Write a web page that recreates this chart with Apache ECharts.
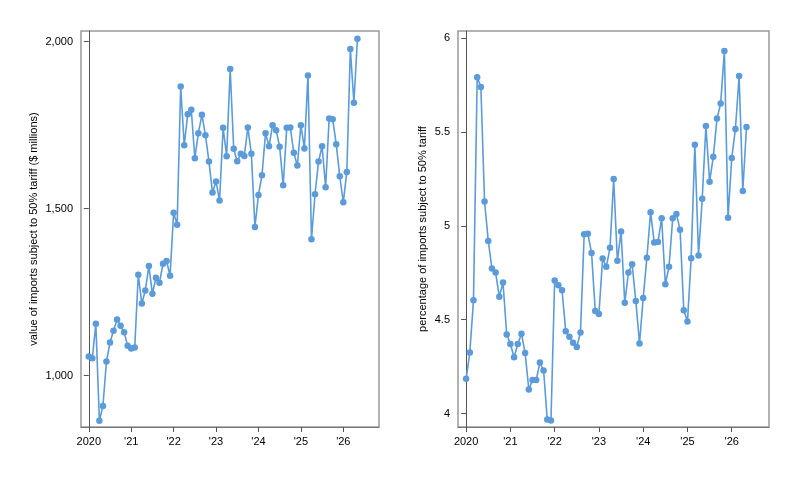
<!DOCTYPE html>
<html>
<head>
<meta charset="utf-8">
<script src="https://cdn.jsdelivr.net/npm/echarts@6/dist/echarts.min.js"></script>
<style>
  html, body { margin: 0; padding: 0; background: #fff; }
  #chart { width: 800px; height: 480px; }
</style>
</head>
<body>
<div id="chart"></div>
<script>
// monthly observations, Jan 2020 .. May 2026
const startYear = 2020;
const startMonth = 1;

// value of imports subject to 50% tariff ($ millions)
const importValue = [
  1057, 1052, 1155, 865, 909, 1042, 1099, 1134, 1168, 1149, 1130, 1089,
  1081, 1084, 1302, 1216, 1255, 1328, 1245, 1293, 1278, 1335, 1343, 1299,
  1488, 1452, 1866, 1690, 1783, 1796, 1651, 1726, 1781, 1720, 1641, 1548,
  1581, 1524, 1742, 1657, 1918, 1679, 1642, 1664, 1658, 1743, 1664, 1445,
  1541, 1600, 1726, 1687, 1750, 1735, 1685, 1570, 1742, 1743, 1667, 1629,
  1750, 1680, 1899, 1408, 1543, 1641, 1687, 1564, 1770, 1768, 1693, 1597,
  1519, 1610, 1978, 1817, 2009
];

// percentage of imports subject to 50% tariff
const importShare = [
  4.185, 4.325, 4.604, 5.792, 5.741, 5.13, 4.92, 4.773, 4.751, 4.622, 4.698, 4.421,
  4.37, 4.30, 4.37, 4.425, 4.322, 4.128, 4.178, 4.178, 4.272, 4.229, 3.968, 3.963,
  4.709, 4.684, 4.657, 4.439, 4.409, 4.377, 4.355, 4.432, 4.956, 4.958, 4.856, 4.547,
  4.531, 4.826, 4.782, 4.883, 5.25, 4.814, 4.97, 4.59, 4.751, 4.796, 4.60, 4.373,
  4.616, 4.83, 5.073, 4.911, 4.914, 5.041, 4.689, 4.782, 5.041, 5.064, 4.979, 4.551,
  4.49, 4.828, 5.432, 4.842, 5.145, 5.533, 5.236, 5.368, 5.572, 5.652, 5.932, 5.043,
  5.362, 5.517, 5.799, 5.186, 5.527
];

// x tick positions in months since Jan 2020 and their labels
const yearTicks = [0, 12, 24, 36, 48, 60, 72];
const yearLabels = ['2020', "'21", "'22", "'23", "'24", "'25", "'26"];

const leftTicks = [1000, 1500, 2000];
const rightTicks = [4, 4.5, 5, 5.5, 6];

const lineColor = '#5b9bd9';
const font = '"Liberation Sans", Arial, sans-serif';

function toPairs(values) {
  return values.map((v, i) => [(startMonth - 1) + i, v]);
}

function xAxisFor(gridIndex) {
  return {
    type: 'value',
    gridIndex,
    min: -2.2,
    max: 82.1,
    axisLine: { show: true, lineStyle: { color: '#777', width: 1 } },
    axisTick: {
      show: true,
      length: 5,
      customValues: yearTicks,
      lineStyle: { color: '#555' }
    },
    axisLabel: {
      customValues: yearTicks,
      color: '#000',
      fontFamily: font,
      fontSize: 11,
      margin: 9,
      formatter: (v) => yearLabels[yearTicks.indexOf(v)] || ''
    },
    splitLine: { show: false }
  };
}

function yAxisFor(gridIndex, min, max, ticks, name, nameGap, fmt) {
  return {
    type: 'value',
    gridIndex,
    min,
    max,
    name,
    nameLocation: 'middle',
    nameGap,
    nameTextStyle: { color: '#000', fontFamily: font, fontSize: 11 },
    axisLine: { show: true, lineStyle: { color: '#555', width: 1 } },
    axisTick: {
      show: true,
      length: 5,
      customValues: ticks,
      lineStyle: { color: '#555' }
    },
    axisLabel: {
      customValues: ticks,
      color: '#000',
      fontFamily: font,
      fontSize: 11,
      margin: 8,
      formatter: fmt
    },
    splitLine: { show: false }
  };
}

const chart = echarts.init(document.getElementById('chart'), null, { renderer: 'canvas' });

chart.setOption({
  animation: false,
  backgroundColor: '#fff',
  grid: [
    { left: 81, top: 31, width: 298, height: 396, show: true, borderColor: '#999', borderWidth: 1.5 },
    { left: 458, top: 31, width: 311, height: 396, show: true, borderColor: '#999', borderWidth: 1.5 }
  ],
  xAxis: [xAxisFor(0), xAxisFor(1)],
  yAxis: [
    yAxisFor(0, 846, 2032, leftTicks, 'value of imports subject to 50% tariff ($ millions)', 42,
      (v) => v.toLocaleString('en-US')),
    yAxisFor(1, 3.928, 6.039, rightTicks, 'percentage of imports subject to 50% tariff', 30,
      (v) => String(v))
  ],
  series: [
    {
      type: 'line',
      xAxisIndex: 0,
      yAxisIndex: 0,
      data: toPairs(importValue),
      symbol: 'circle',
      symbolSize: 6.5,
      showAllSymbol: true,
      lineStyle: { color: lineColor, width: 1.6 },
      itemStyle: { color: lineColor }
    },
    {
      type: 'line',
      xAxisIndex: 1,
      yAxisIndex: 1,
      data: toPairs(importShare),
      symbol: 'circle',
      symbolSize: 6.5,
      showAllSymbol: true,
      lineStyle: { color: lineColor, width: 1.6 },
      itemStyle: { color: lineColor }
    }
  ]
});
</script>
</body>
</html>
